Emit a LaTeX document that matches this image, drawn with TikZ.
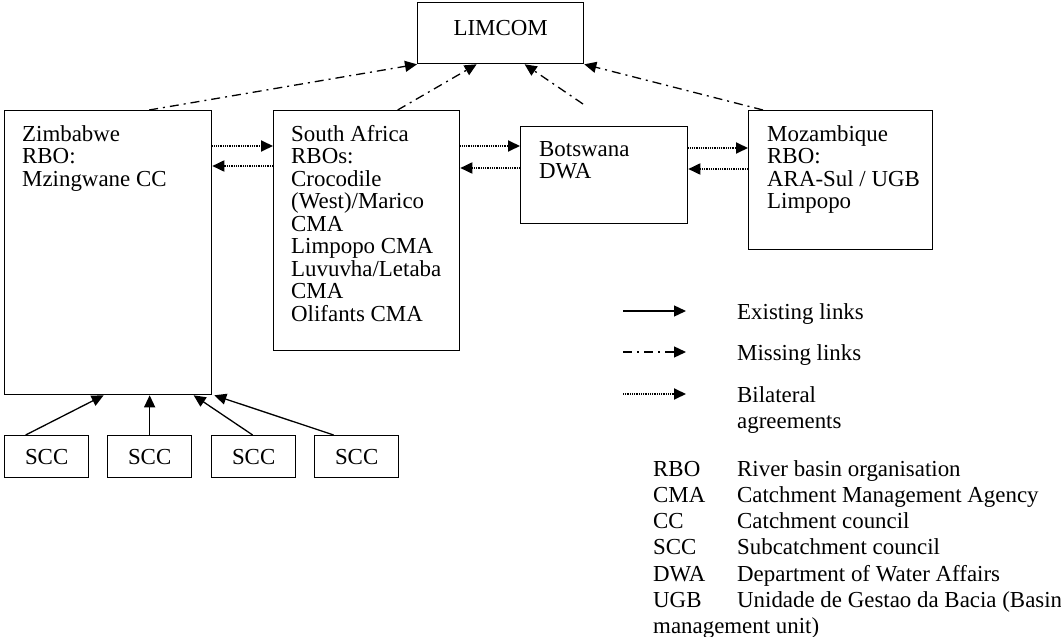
\documentclass[tikz,border=0pt]{standalone}
\usepackage{fontspec}
\setmainfont{Liberation Serif}
\usetikzlibrary{arrows.meta}
\tikzstyle{block} = [rectangle, draw, line width=1.3pt, anchor=north west,
    inner sep=0pt, font=\fontsize{22.9}{22.5}\selectfont]
\tikzstyle{txt} = [anchor=north west, align=left, inner sep=0pt,
    font=\fontsize{22.9}{22.5}\selectfont]
\tikzstyle{legend} = [txt, font=\fontsize{22.9}{26.3}\selectfont]
\tikzstyle{line} = [draw, line width=1.3pt, -{Triangle[length=12pt,width=11pt]}]
\tikzstyle{missing} = [line, dash pattern=on 9pt off 5pt on 2pt off 5pt]
\tikzstyle{bilateral} = [line, line width=1.8pt, dash pattern=on 1pt off 0.8pt]

\begin{document}
\begin{tikzpicture}[x=1pt, y=-1pt]
  \useasboundingbox (0,0) rectangle (1061,637);
  % organisations
  \node [block, minimum width=166pt, minimum height=61pt, text depth=10pt] (limcom) at (417,2) {LIMCOM};
  \node [block, minimum width=207pt, minimum height=284pt] (zim) at (4,110) {};
  \node [block, minimum width=186pt, minimum height=240pt] (sa) at (273,110) {};
  \node [block, minimum width=167pt, minimum height=97pt] (bots) at (520,126) {};
  \node [block, minimum width=184pt, minimum height=139pt] (moz) at (748,110) {};
  \node [txt] (zimtxt) at ([shift={(18,15)}]zim.north west) {Zimbabwe\\RBO:\\Mzingwane CC};
  \node [txt] (satxt) at ([shift={(18,15)}]sa.north west) {South Africa\\RBOs:\\Crocodile\\(West)/Marico\\CMA\\Limpopo CMA\\Luvuvha/Letaba\\CMA\\Olifants CMA};
  \node [txt] (botstxt) at ([shift={(19,15)}]bots.north west) {Botswana\\DWA};
  \node [txt] (moztxt) at ([shift={(19,15)}]moz.north west) {Mozambique\\RBO:\\ARA-Sul / UGB\\Limpopo};
  %
  \node [block, minimum width=84pt, minimum height=42pt] (scc1) at (4,435) {SCC};
  \node [block, minimum width=84pt, minimum height=42pt] (scc2) at (107,435) {SCC};
  \node [block, minimum width=84pt, minimum height=42pt] (scc3) at (211,435) {SCC};
  \node [block, minimum width=84pt, minimum height=42pt] (scc4) at (314,435) {SCC};
  % existing links
  \path [line] ([xshift=-21]scc1.north) -- ([xshift=-4.5]zim.south);
  \path [line] (scc2.north) -- (scc2.north |- zim.south);
  \path [line] ([xshift=-1]scc3.north) -- ([xshift=85.5]zim.south);
  \path [line] ([xshift=-23]scc4.north) -- ([xshift=2]zim.south east);
  % missing links
  \coordinate (botsgap) at (583,104);
  \path [missing] ([xshift=41]zim.north) -- (limcom.south west);
  \path [missing] ([xshift=31]sa.north) -- ([xshift=-24]limcom.south);
  \path [missing] (botsgap) -- ([xshift=24]limcom.south);
  \path [missing] ([xshift=15]moz.north west) -- (limcom.south east);
  % bilateral agreements
  \path [bilateral] (zim.east |- 0,146) -- (sa.west |- 0,146);
  \path [bilateral] (sa.west |- 0,166) -- (zim.east |- 0,166);
  \path [bilateral] (sa.east |- 0,146) -- (bots.west |- 0,146);
  \path [bilateral] (bots.west |- 0,168) -- (sa.east |- 0,168);
  \path [bilateral] (bots.east |- 0,148) -- (moz.west |- 0,148);
  \path [bilateral] (moz.west |- 0,169) -- (bots.east |- 0,169);
  % legend
  \coordinate (exA) at (623,311);
  \coordinate (exB) at (686,311);
  \coordinate (miA) at (623,352);
  \coordinate (miB) at (686,352);
  \coordinate (biA) at (623,394);
  \coordinate (biB) at (686,394);
  \path [line] (exA) -- (exB);
  \path [missing] (miA) -- (miB);
  \path [bilateral] (biA) -- (biB);
  \node [legend, anchor=base west] (extxt) at (737,319) {Existing links};
  \node [legend, anchor=base west] (mitxt) at (737,360) {Missing links};
  \node [legend] (bitxt) at (737,386) {Bilateral\\agreements};
  \node [legend] (abbrev) at (653,460) {\makebox[84pt][l]{RBO}River basin organisation\\
    \makebox[84pt][l]{CMA}Catchment Management Agency\\
    \makebox[84pt][l]{CC}Catchment council\\
    \makebox[84pt][l]{SCC}Subcatchment council\\
    \makebox[84pt][l]{DWA}Department of Water Affairs\\
    \makebox[84pt][l]{UGB}Unidade de Gestao da Bacia (Basin\\
    management unit)};
\end{tikzpicture}
\end{document}
